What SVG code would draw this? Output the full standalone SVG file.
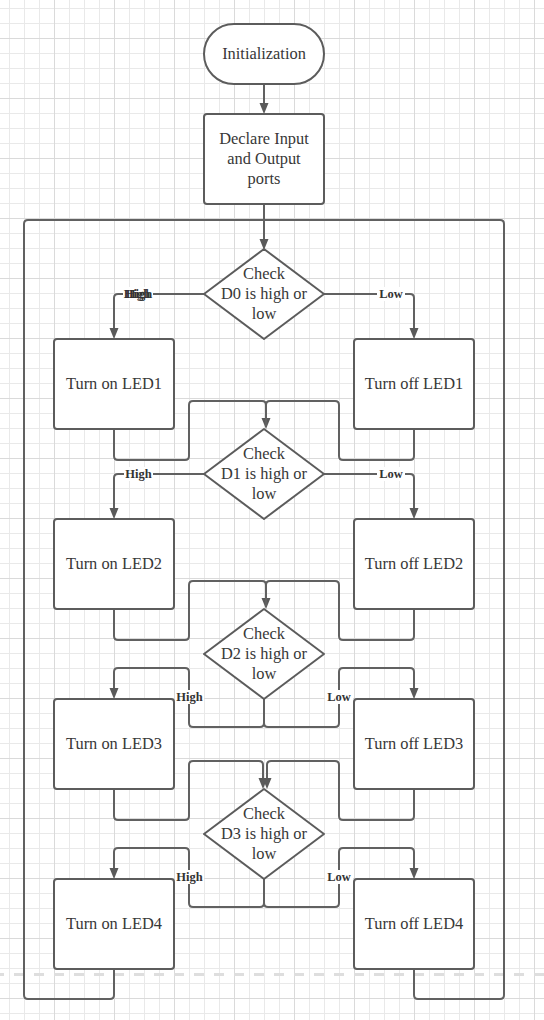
<svg xmlns="http://www.w3.org/2000/svg" width="544" height="1020" viewBox="0 0 544 1020">
<defs>
<pattern id="grid" x="9" y="8" width="60" height="60" patternUnits="userSpaceOnUse">
<path d="M0.5,0 V60 M15.5,0 V60 M30.5,0 V60 M0,0.5 H60 M0,15.5 H60 M0,45.5 H60" stroke="#e9e9e9" stroke-width="1" fill="none"/>
<path d="M45.5,0 V60 M0,30.5 H60" stroke="#dadada" stroke-width="1" fill="none"/>
</pattern>
<marker id="arr" markerUnits="userSpaceOnUse" markerWidth="12" markerHeight="10" refX="8" refY="4.5" orient="auto">
<path d="M0,0 L11,4.5 L0,9 z" fill="#5a5a5a"/>
</marker>
</defs>
<style>
.node{fill:#fff;stroke:#5c5c5c;stroke-width:2}
.t{font-family:"Liberation Serif","Times New Roman",serif;font-size:16.4px;fill:#383838;text-anchor:middle}
.c{fill:none;stroke:#616161;stroke-width:2}
.a{marker-end:url(#arr)}
.lb{font-family:"Liberation Serif","Times New Roman",serif;font-size:12.5px;font-weight:bold;fill:#333;text-anchor:middle}
.bg{fill:#fff}
</style>
<rect x="0" y="0" width="544" height="1020" fill="#fff"/>
<rect x="0" y="0" width="544" height="1020" fill="url(#grid)"/>
<line x1="-6" y1="974.5" x2="544" y2="974.5" stroke="#dedede" stroke-width="3" stroke-dasharray="10 10"/>

<g id="connectors">
<path class="c a" d="M264,84 L264,111"/>
<path class="c a" d="M264,204 L264,247"/>
<path class="c" d="M114,969 L114,995 Q114,999 110,999 L28,999 Q24,999 24,995 L24,224 Q24,220 28,220 L264,220"/>
<path class="c" d="M414,969 L414,995 Q414,999 418,999 L500,999 Q504,999 504,995 L504,224 Q504,220 500,220 L264,220"/>
<path class="c a" d="M204,294 L118,294 Q114,294 114,298 L114,336"/>
<path class="c a" d="M324,294 L410,294 Q414,294 414,298 L414,336"/>
<path class="c a" d="M114,429 L114,456 Q114,460 118,460 L185,460 Q189,460 189,456 L189,405 Q189,401 193,401 L262,401 Q266,401 266,405 L266,426"/>
<path class="c" d="M414,429 L414,456 Q414,460 410,460 L343,460 Q339,460 339,456 L339,405 Q339,401 335,401 L270,401 Q266,401 266,405 L266,426"/>
<path class="c a" d="M204,474 L118,474 Q114,474 114,478 L114,516"/>
<path class="c a" d="M324,474 L410,474 Q414,474 414,478 L414,516"/>
<path class="c a" d="M114,609 L114,636 Q114,640 118,640 L185,640 Q189,640 189,636 L189,585 Q189,581 193,581 L262,581 Q266,581 266,585 L266,606"/>
<path class="c" d="M414,609 L414,636 Q414,640 410,640 L343,640 Q339,640 339,636 L339,585 Q339,581 335,581 L270,581 Q266,581 266,585 L266,606"/>
<path class="c a" d="M264,699 L264,723 Q264,727 260,727 L193,727 Q189,727 189,723 L189,672 Q189,668 185,668 L118,668 Q114,668 114,672 L114,696"/>
<path class="c a" d="M264,699 L264,723 Q264,727 268,727 L335,727 Q339,727 339,723 L339,672 Q339,668 343,668 L410,668 Q414,668 414,672 L414,696"/>
<path class="c a" d="M114,789 L114,816 Q114,820 118,820 L185,820 Q189,820 189,816 L189,765 Q189,761 193,761 L259,761 Q263,761 263,765 L263,786"/>
<path class="c a" d="M414,789 L414,816 Q414,820 410,820 L343,820 Q339,820 339,816 L339,765 Q339,761 335,761 L271,761 Q267,761 267,765 L267,786"/>
<path class="c a" d="M264,879 L264,903 Q264,907 260,907 L193,907 Q189,907 189,903 L189,852 Q189,848 185,848 L118,848 Q114,848 114,852 L114,876"/>
<path class="c a" d="M264,879 L264,903 Q264,907 268,907 L335,907 Q339,907 339,903 L339,852 Q339,848 343,848 L410,848 Q414,848 414,852 L414,876"/>
</g>

<g id="labels">
<rect class="bg" x="123" y="287" width="30" height="14"/>
<text class="lb" x="137" y="298">High</text>
<text class="lb" x="139" y="298">High</text>
<rect class="bg" x="377" y="287" width="28" height="14"/>
<text class="lb" x="391" y="298">Low</text>
<rect class="bg" x="124" y="467" width="29" height="14"/>
<text class="lb" x="138.5" y="478">High</text>
<rect class="bg" x="377" y="467" width="28" height="14"/>
<text class="lb" x="391" y="478">Low</text>
<rect class="bg" x="175" y="690" width="29" height="14"/>
<text class="lb" x="189.5" y="701">High</text>
<rect class="bg" x="325" y="690" width="28" height="14"/>
<text class="lb" x="339" y="701">Low</text>
<rect class="bg" x="175" y="870" width="29" height="14"/>
<text class="lb" x="189.5" y="881">High</text>
<rect class="bg" x="325" y="870" width="28" height="14"/>
<text class="lb" x="339" y="881">Low</text>
</g>

<g id="init">
<rect class="node" x="204" y="24" width="120" height="60" rx="30"/>
<text class="t" x="264" y="58.5">Initialization</text>
</g>
<g id="declare">
<rect class="node" x="204" y="114" width="120" height="90" rx="3"/>
<text class="t" x="264" y="144">Declare Input</text>
<text class="t" x="264" y="164">and Output</text>
<text class="t" x="264" y="184">ports</text>
</g>
<g id="d0">
<path class="node" stroke-linejoin="round" d="M264,249 L324,294 L264,339 L204,294 Z"/>
<text class="t" x="264" y="278.5">Check</text>
<text class="t" x="264" y="298.5">D0 is high or</text>
<text class="t" x="264" y="318.5">low</text>
</g>
<g id="on1"><rect class="node" x="54" y="339" width="120" height="90" rx="3"/><text class="t" x="114" y="388.5">Turn on LED1</text></g>
<g id="off1"><rect class="node" x="354" y="339" width="120" height="90" rx="3"/><text class="t" x="414" y="388.5">Turn off LED1</text></g>
<g id="d1">
<path class="node" stroke-linejoin="round" d="M264,429 L324,474 L264,519 L204,474 Z"/>
<text class="t" x="264" y="458.5">Check</text>
<text class="t" x="264" y="478.5">D1 is high or</text>
<text class="t" x="264" y="498.5">low</text>
</g>
<g id="on2"><rect class="node" x="54" y="519" width="120" height="90" rx="3"/><text class="t" x="114" y="568.5">Turn on LED2</text></g>
<g id="off2"><rect class="node" x="354" y="519" width="120" height="90" rx="3"/><text class="t" x="414" y="568.5">Turn off LED2</text></g>
<g id="d2">
<path class="node" stroke-linejoin="round" d="M264,609 L324,654 L264,699 L204,654 Z"/>
<text class="t" x="264" y="638.5">Check</text>
<text class="t" x="264" y="658.5">D2 is high or</text>
<text class="t" x="264" y="678.5">low</text>
</g>
<g id="on3"><rect class="node" x="54" y="699" width="120" height="90" rx="3"/><text class="t" x="114" y="748.5">Turn on LED3</text></g>
<g id="off3"><rect class="node" x="354" y="699" width="120" height="90" rx="3"/><text class="t" x="414" y="748.5">Turn off LED3</text></g>
<g id="d3">
<path class="node" stroke-linejoin="round" d="M264,789 L324,834 L264,879 L204,834 Z"/>
<text class="t" x="264" y="818.5">Check</text>
<text class="t" x="264" y="838.5">D3 is high or</text>
<text class="t" x="264" y="858.5">low</text>
</g>
<g id="on4"><rect class="node" x="54" y="879" width="120" height="90" rx="3"/><text class="t" x="114" y="928.5">Turn on LED4</text></g>
<g id="off4"><rect class="node" x="354" y="879" width="120" height="90" rx="3"/><text class="t" x="414" y="928.5">Turn off LED4</text></g>
</svg>
